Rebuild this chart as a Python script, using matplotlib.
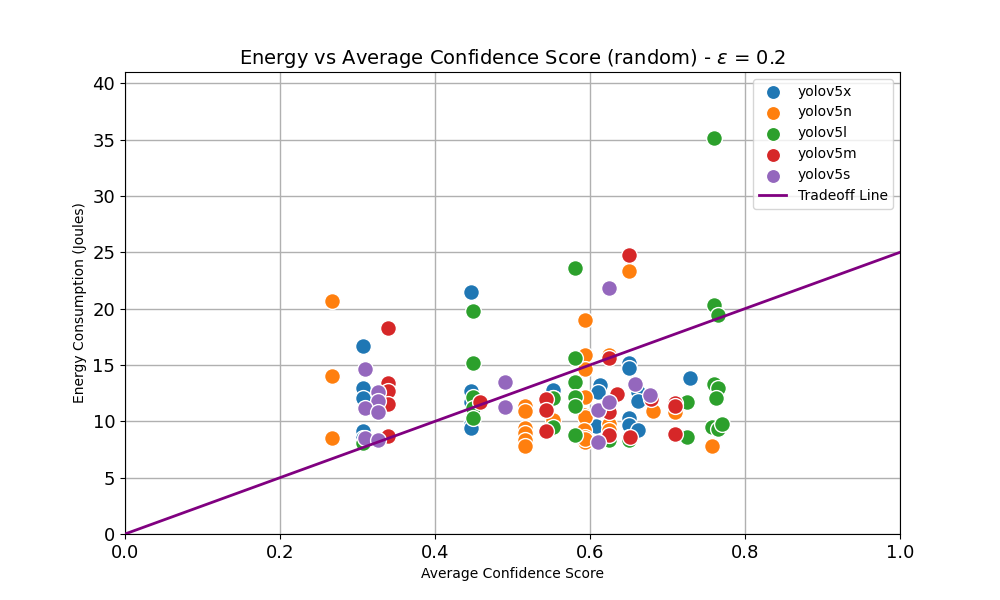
import matplotlib
matplotlib.use("Agg")
import matplotlib.pyplot as plt
import numpy as np

# values
yolov5x_conf = [0.307, 0.307, 0.307, 0.307, 0.307, 0.446, 0.446, 0.446, 0.446, 0.446,
                0.552, 0.552, 0.613, 0.610, 0.608, 0.650, 0.650, 0.650, 0.650, 0.650,
                0.662, 0.662, 0.662, 0.729]
yolov5x_energy = [16.7, 13.0, 12.1, 9.1, 8.5, 21.5, 12.7, 11.7, 9.8, 9.4,
                  12.8, 12.1, 13.2, 12.6, 9.6, 15.2, 14.7, 10.3, 9.7, 8.6,
                  12.6, 11.8, 9.2, 13.8]

yolov5n_conf = [0.267, 0.267, 0.267, 0.516, 0.516, 0.516, 0.516, 0.516, 0.516,
                0.552, 0.594, 0.594, 0.594, 0.594, 0.592, 0.594, 0.592, 0.594, 0.594,
                0.594, 0.625, 0.625, 0.625, 0.650, 0.681, 0.710, 0.757]
yolov5n_energy = [20.7, 14.0, 8.5, 11.4, 10.9, 9.4, 9.0, 8.3, 7.8,
                  10.1, 19.0, 15.9, 14.6, 12.2, 10.6, 10.4, 9.2, 8.6, 8.2,
                  8.4, 15.9, 9.8, 9.2, 23.3, 10.9, 10.8, 7.8]

yolov5l_conf = [0.307, 0.449, 0.449, 0.449, 0.449, 0.449, 0.552, 0.552,
                0.581, 0.581, 0.581, 0.581, 0.581, 0.581, 0.625, 0.650,
                0.725, 0.725, 0.760, 0.760, 0.765, 0.760, 0.765, 0.762, 0.757, 0.765, 0.770]
yolov5l_energy = [8.1, 19.8, 15.2, 12.2, 11.2, 10.3, 12.1, 9.5,
                  23.6, 15.6, 13.5, 12.2, 11.4, 8.8, 8.3, 8.3,
                  11.7, 8.6, 35.1, 20.3, 19.4, 13.3, 13.0, 12.1, 9.5, 9.3, 9.8]

yolov5m_conf = [0.339, 0.339, 0.339, 0.339, 0.339, 0.458, 0.543, 0.543, 0.543,
                0.625, 0.625, 0.625, 0.635, 0.650, 0.652, 0.679, 0.710, 0.710, 0.710]
yolov5m_energy = [18.3, 13.4, 12.7, 11.5, 8.7, 11.7, 12.0, 11.0, 9.1,
                  15.6, 10.8, 8.8, 12.4, 24.8, 8.6, 12.0, 11.6, 11.4, 8.9]

yolov5s_conf = [0.310, 0.326, 0.326, 0.310, 0.326, 0.310, 0.326, 0.490, 0.490,
                0.610, 0.610, 0.625, 0.625, 0.658, 0.677]
yolov5s_energy = [14.6, 12.6, 11.8, 11.2, 10.8, 8.5, 8.3, 13.5, 11.3,
                  11.0, 8.2, 21.8, 11.7, 13.3, 12.3]

models = ["yolov5x", "yolov5n", "yolov5l", "yolov5m", "yolov5s"]
confs = [yolov5x_conf, yolov5n_conf, yolov5l_conf, yolov5m_conf, yolov5s_conf]
energies = [yolov5x_energy, yolov5n_energy, yolov5l_energy, yolov5m_energy, yolov5s_energy]
colors = ["#1f77b4", "#ff7f0e", "#2ca02c", "#d62728", "#9467bd"]

epsilon = 0.2
tradeoff_slope = 25

fig, ax = plt.subplots(figsize=(10, 6), dpi=100)

for name, xs, ys, c in zip(models, confs, energies, colors):
    ax.scatter(xs, ys, s=130, color=c, edgecolors="white", linewidths=1,
               label=name, zorder=3)

line_x = np.array([0, 1])
ax.plot(line_x, tradeoff_slope * line_x, color="purple", linewidth=2,
        label="Tradeoff Line", zorder=4)

ax.set_xlim(0, 1)
ax.set_ylim(0, 41)
ax.set_title(r"Energy vs Average Confidence Score (random) - $\epsilon$ = " + str(epsilon),
             fontsize=14)
ax.set_xlabel("Average Confidence Score", fontsize=10)
ax.set_ylabel("Energy Consumption (Joules)", fontsize=10)
ax.tick_params(axis="both", labelsize=13)
ax.grid(True, color="#b0b0b0", linewidth=1, zorder=0)
ax.set_axisbelow(True)
ax.legend(loc="upper right", fontsize=10, markerscale=0.9)

fig.savefig("out.png", dpi=100)
